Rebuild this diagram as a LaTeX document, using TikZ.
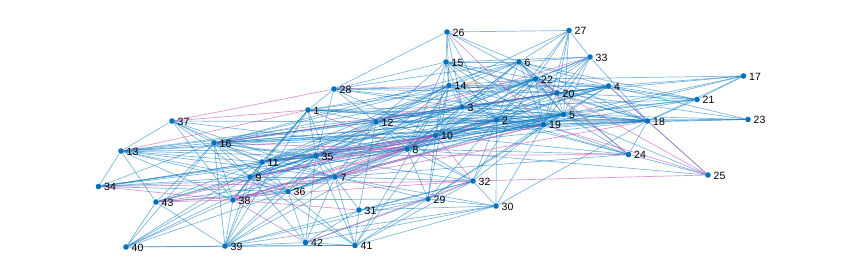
\documentclass[tikz,border=0pt]{standalone}
\usepackage{fontspec}
\setmainfont{Liberation Sans}
\usetikzlibrary{backgrounds}
\definecolor{nodeblue}{RGB}{0,114,189}
\definecolor{edgemag}{RGB}{190,70,170}
\begin{document}
\begin{tikzpicture}[x=1pt,y=-1pt,
  vert/.style={circle,fill=nodeblue,inner sep=0pt,minimum size=5.6pt},
  lbl/.style={anchor=west,inner sep=0pt,font=\fontsize{10.5}{12}\selectfont,text=black},
  eb/.style={draw=nodeblue,opacity=0.5,line width=0.7pt},
  em/.style={draw=edgemag,opacity=0.55,line width=0.7pt}]
\useasboundingbox (0,0) rectangle (847,279);
\foreach \n/\x/\y in {1/308/110,2/496.5/120,3/462/107,4/608.5/86,5/563.5/114.5,6/519/62,
  7/335/177,8/407/149,9/250/177,10/435.5/135.5,11/262/162,12/376/122,13/121/151,
  14/449/85.5,15/446/62,16/214/143,17/743.5/76,18/647.5/121,19/543.5/124.5,20/557/93,
  21/697/99.5,22/535.5/79,23/748/119.5,24/628.5/154.5,25/708/175,26/447/32,27/569/30.5,
  28/334/89,29/428/199,30/496/206,31/359/210,32/473/181,33/590/57,34/98.5/186.5,
  35/316/156,36/288/191.5,37/172/121,38/233/200,39/225/246,40/126/247,41/355/245.5,
  42/305.5/242.5,43/156/202}{
  \node[vert] (n\n) at (\x,\y) {};
  \node[lbl] (l\n) at (\x+5.5,\y+0.8) {\n};
}
\begin{scope}[on background layer]
\foreach \a/\b in {1/2,1/3,1/5,1/7,1/9,1/11,1/12,1/14,1/19,1/22,1/28,1/35,1/38,1/39,1/18,
 2/3,2/4,2/5,2/6,2/7,2/8,2/9,2/10,2/11,2/12,2/14,2/15,2/16,2/18,2/19,2/20,2/21,2/22,2/23,2/24,2/26,2/27,2/29,2/30,2/32,2/33,2/35,
 3/4,3/5,3/6,3/8,3/10,3/12,3/14,3/15,3/16,3/18,3/19,3/20,3/22,3/26,3/28,3/33,3/35,3/11,3/9,3/13,3/21,3/24,
 4/5,4/6,4/10,4/12,4/14,4/17,4/18,4/19,4/20,4/21,4/22,4/23,4/28,4/16,4/8,4/35,
 5/6,5/8,5/10,5/12,5/14,5/15,5/16,5/17,5/18,5/19,5/20,5/21,5/22,5/23,5/24,5/25,5/27,5/29,5/33,5/7,5/9,5/11,5/35,5/36,
 6/8,6/10,6/12,6/14,6/15,6/18,6/19,6/20,6/21,6/22,6/24,6/26,6/27,6/33,6/28,6/16,
 7/8,7/9,7/11,7/12,7/13,7/14,7/16,7/29,7/30,7/31,7/32,7/34,7/35,7/36,7/37,7/38,7/39,7/41,7/42,7/43,7/24,
 8/9,8/10,8/11,8/12,8/13,8/14,8/15,8/19,8/22,8/29,8/32,8/34,8/35,8/36,8/37,8/39,8/24,8/25,
 9/11,9/12,9/13,9/14,9/16,9/19,9/22,9/34,9/35,9/36,9/37,9/38,9/39,9/40,9/41,9/42,9/43,
 10/12,10/13,10/14,10/15,10/16,10/18,10/19,10/22,10/24,10/28,10/29,10/33,10/34,10/36,10/38,10/41,
 11/12,11/13,11/14,11/16,11/19,11/20,11/34,11/35,11/36,11/37,11/38,11/39,11/40,11/43,11/22,11/18,
 12/13,12/14,12/15,12/16,12/19,12/20,12/22,12/28,12/35,12/36,12/37,12/31,12/32,12/18,
 13/16,13/34,13/35,13/36,13/37,13/38,13/43,13/19,
 14/15,14/16,14/19,14/20,14/22,14/26,14/27,14/29,14/35,14/41,
 15/19,15/20,15/22,15/26,15/28,15/33,15/18,
 16/18,16/19,16/22,16/34,16/35,16/36,16/37,16/38,16/39,16/40,16/43,16/32,
 17/18,17/19,17/20,17/21,17/22,
 18/19,18/20,18/21,18/22,18/23,18/24,18/25,18/28,18/30,18/33,
 19/20,19/21,19/22,19/23,19/24,19/27,19/29,19/30,19/32,19/33,19/35,
 20/21,20/22,20/23,20/27,20/28,20/33,20/36,21/22,22/26,22/27,22/32,22/33,
 24/25,26/27,26/28,27/33,28/35,
 29/30,29/31,29/32,29/38,29/39,29/41,29/42,30/31,30/32,30/39,30/41,30/42,
 31/32,31/41,31/42,32/39,32/41,34/35,34/36,
 35/36,35/38,35/39,35/40,35/41,35/42,35/43,36/38,36/39,36/40,36/41,36/42,36/43,
 37/38,38/39,38/40,39/40,39/41,39/42,39/43,40/41,40/43,41/42}
  \draw[eb] (n\a) -- (n\b);
\foreach \a/\b in {1/8,1/13,1/37,2/38,4/25,7/10,7/18,7/19,8/16,8/38,9/10,10/11,10/32,10/35,10/43,
 12/33,14/28,16/20,19/25,19/26,19/38,22/24,22/25,24/35,25/32,28/37,31/38,32/34,32/42,32/43,34/38,38/42,38/43}
  \draw[em] (n\a) -- (n\b);
\end{scope}
\end{tikzpicture}
\end{document}
